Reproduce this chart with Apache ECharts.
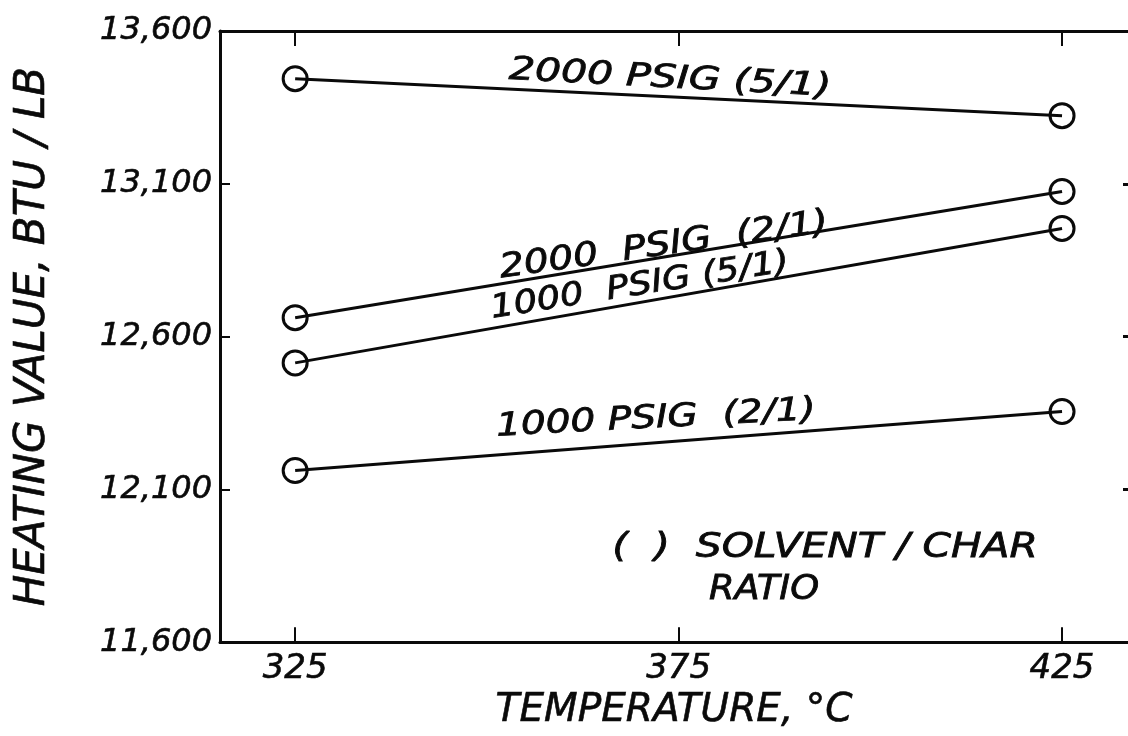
<!DOCTYPE html>
<html>
<head>
<meta charset="utf-8">
<script src="https://cdn.jsdelivr.net/npm/echarts@6/dist/echarts.min.js"></script>
<style>
  html, body { margin: 0; padding: 0; background: #fff; }
  #chart { width: 1128px; height: 736px; }
</style>
</head>
<body>
<div id="chart"></div>
<script>
// ---- data ----
const temperatures = [325, 425];
const seriesNames = ['2000 PSIG (5/1)', '2000 PSIG (2/1)', '1000 PSIG (5/1)', '1000 PSIG (2/1)'];
const psig2000_51 = [13444, 13323];
const psig2000_21 = [12662, 13075];
const psig1000_51 = [12514, 12954];
const psig1000_21 = [12162, 12355];
const xTickValues = [325, 375, 425];
const yTickValues = [11600, 12100, 12600, 13100, 13600];
const yTickLabels = ['11,600', '12,100', '12,600', '13,100', '13,600'];
const yInnerTicks = [12100, 12600, 13100];
const xAxisTitle = 'TEMPERATURE, °C';
const yAxisTitle = 'HEATING VALUE, BTU / LB';
const noteLine1 = '(  )  SOLVENT / CHAR';
const noteLine2 = 'RATIO';

const INK = '#0a0a0a';
const FONT = '"DejaVu Sans", "Liberation Sans", sans-serif';

function pairs(vals) { return temperatures.map((t, i) => [t, vals[i]]); }

function lineSeries(name, vals) {
  return {
    name: name,
    type: 'line',
    data: pairs(vals),
    symbol: 'circle',
    symbolSize: 24,
    showSymbol: true,
    itemStyle: { color: 'rgba(255,255,255,0)', borderColor: INK, borderWidth: 3 },
    lineStyle: { color: INK, width: 3 },
    emphasis: { disabled: true },
    silent: true,
    z: 3
  };
}

function note(text, x, y, deg, size, sx) {
  return {
    type: 'text',
    x: x, y: y,
    rotation: deg * Math.PI / 180,
    scaleX: sx, scaleY: 1,
    z: 10,
    style: {
      text: text,
      font: 'italic ' + size + 'px ' + FONT,
      fill: INK,
      stroke: INK, lineWidth: 0.8,
      align: 'center', verticalAlign: 'middle',
      textAlign: 'center', textVerticalAlign: 'middle'
    }
  };
}

const chart = echarts.init(document.getElementById('chart'), null, { renderer: 'canvas' });

chart.setOption({
  backgroundColor: '#ffffff',
  animation: false,
  grid: { left: 220, right: 0, top: 31, bottom: 91, containLabel: false },
  xAxis: [
    {
      type: 'value', position: 'bottom',
      min: 315.2, max: 433.6,
      name: xAxisTitle, nameLocation: 'middle', nameGap: 35,
      nameTextStyle: { fontFamily: FONT, fontStyle: 'italic', fontSize: 39, color: INK, textBorderColor: INK, textBorderWidth: 0.6 },
      axisLine: { show: true, onZero: false, lineStyle: { color: INK, width: 3 } },
      axisTick: { show: true, inside: true, length: 15, customValues: xTickValues, lineStyle: { color: INK, width: 2 } },
      axisLabel: { show: true, customValues: xTickValues, margin: 10, fontFamily: FONT, fontStyle: 'italic', fontSize: 34, color: INK, textBorderColor: INK, textBorderWidth: 0.6 },
      splitLine: { show: false }
    },
    {
      type: 'value', position: 'top',
      min: 315.2, max: 433.6,
      axisLine: { show: true, onZero: false, lineStyle: { color: INK, width: 3 } },
      axisTick: { show: true, inside: true, length: 15, customValues: xTickValues, lineStyle: { color: INK, width: 2 } },
      axisLabel: { show: false },
      splitLine: { show: false }
    }
  ],
  yAxis: [
    {
      type: 'value', position: 'left',
      min: 11600, max: 13600,
      name: yAxisTitle, nameLocation: 'middle', nameGap: 166, nameRotate: 90,
      nameTextStyle: { fontFamily: FONT, fontStyle: 'italic', fontSize: 42, color: INK, textBorderColor: INK, textBorderWidth: 0.6 },
      axisLine: { show: true, onZero: false, lineStyle: { color: INK, width: 3 } },
      axisTick: { show: true, inside: true, length: 10, customValues: yInnerTicks, lineStyle: { color: INK, width: 2 } },
      axisLabel: {
        show: true, customValues: yTickValues, margin: 8,
        fontFamily: FONT, fontStyle: 'italic', fontSize: 32, color: INK,
        textBorderColor: INK, textBorderWidth: 0.6,
        formatter: function (v) {
          const i = yTickValues.indexOf(Math.round(v));
          return i >= 0 ? yTickLabels[i] : '';
        }
      },
      splitLine: { show: false }
    },
    {
      type: 'value', position: 'right',
      min: 11600, max: 13600,
      axisLine: { show: false },
      axisTick: { show: true, inside: true, length: 5, customValues: yInnerTicks, lineStyle: { color: INK, width: 3 } },
      axisLabel: { show: false },
      splitLine: { show: false }
    }
  ],
  series: [
    lineSeries(seriesNames[0], psig2000_51),
    lineSeries(seriesNames[1], psig2000_21),
    lineSeries(seriesNames[2], psig1000_51),
    lineSeries(seriesNames[3], psig1000_21)
  ],
  graphic: [
    note(seriesNames[0], 670, 79, -3, 32, 1.28),
    note('2000  PSIG  (2/1)', 664, 246, 8, 33, 1.18),
    note('1000  PSIG (5/1)', 640, 286, 9, 32, 1.15),
    note('1000 PSIG  (2/1)', 656, 419, 3, 32, 1.22),
    note(noteLine1, 825, 548, 0, 34, 1.2),
    note(noteLine2, 764, 590, 0, 34, 1.08)
  ]
});
</script>
</body>
</html>
